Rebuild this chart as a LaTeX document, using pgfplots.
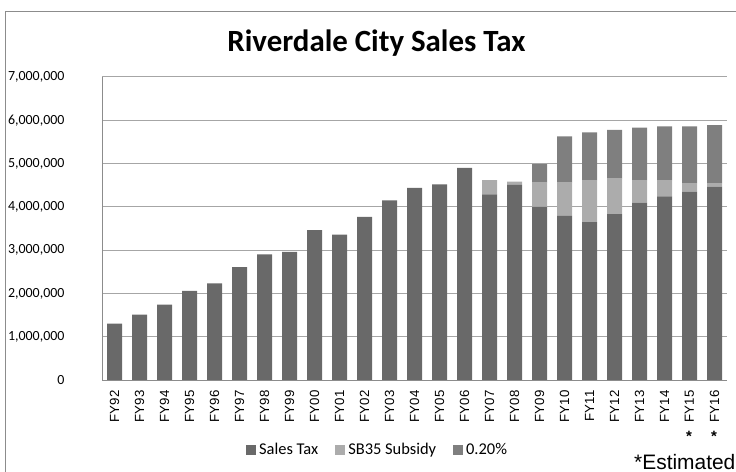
\documentclass[border=0pt]{standalone}
\usepackage{pgfplots}
\pgfplotsset{compat=1.18}
\usepackage{pgfplotstable}
\usepackage{fontspec}
\setmainfont{Carlito}
\newfontfamily\arialfont{Liberation Sans}
\definecolor{salestax}{HTML}{696969}
\definecolor{subsidy}{HTML}{ACACAC}
\definecolor{pointtwo}{HTML}{7F7F7F}
\definecolor{gridgray}{HTML}{A6A6A6}
\definecolor{framegray}{HTML}{8C8C8C}

% fiscal year index, sales tax, SB35 subsidy, 0.20% levy
\pgfplotstableread{
x  sales    sub     pct
0  1300000  0       0
1  1510000  0       0
2  1740000  0       0
3  2060000  0       0
4  2230000  0       0
5  2610000  0       0
6  2900000  0       0
7  2960000  0       0
8  3460000  0       0
9  3360000  0       0
10 3770000  0       0
11 4150000  0       0
12 4440000  0       0
13 4520000  0       0
14 4900000  0       0
15 4290000  330000  0
16 4510000  70000   0
17 4000000  560000  430000
18 3790000  770000  1070000
19 3650000  970000  1100000
20 3830000  820000  1130000
21 4100000  520000  1210000
22 4240000  380000  1240000
23 4350000  200000  1310000
24 4470000  80000   1340000
}\taxdata

\begin{document}
\begin{tikzpicture}
\path[use as bounding box] (0bp,0bp) rectangle (736bp,472bp);
\draw[framegray, line width=1bp] (5.5bp,-10bp) rectangle (760bp,460.5bp);
\node[font=\fontsize{31}{36}\selectfont\bfseries] at (376.5bp,429bp) {Riverdale City Sales Tax};

\begin{axis}[
  at={(102bp,92bp)}, anchor=south west,
  scale only axis, width=625bp, height=303bp,
  ybar stacked, bar width=0.6,
  xmin=-0.5, xmax=24.5, ymin=0, ymax=7000000,
  xtick={0,...,24},
  xticklabels={FY92,FY93,FY94,FY95,FY96,FY97,FY98,FY99,FY00,FY01,FY02,FY03,FY04,
    FY05,FY06,FY07,FY08,FY09,FY10,FY11,FY12,FY13,FY14,FY15,FY16},
  x tick label style={rotate=90, anchor=east, xshift=-7bp,
    font=\arialfont\fontsize{13.3}{15}\selectfont},
  ytick={0,1000000,...,7000000},
  scaled y ticks=false,
  yticklabel={\pgfmathprintnumber[fixed,1000 sep={,}]{\tick}},
  y tick label style={font=\fontsize{14}{16}\selectfont, xshift=-34bp},
  /pgf/number format/assume math mode=true,
  tick style={draw=none},
  ymajorgrids, grid style={gridgray, line width=1bp},
  axis x line*=bottom, axis y line*=left,
  axis line style={framegray, line width=1bp},
  legend columns=3,
  legend style={at={(0.441,-0.231)}, anchor=center, draw=none, fill=none,
    font=\fontsize{16.5}{18}\selectfont,
    /tikz/every odd column/.append style={column sep=1bp},
    /tikz/every even column/.append style={column sep=15bp}},
  legend image code/.code={\fill[#1] (0bp,-5bp) rectangle (10bp,5bp);},
]
\addplot[fill=salestax, draw=none] table[x=x, y=sales] {\taxdata};
\addplot[fill=subsidy, draw=none] table[x=x, y=sub] {\taxdata};
\addplot[fill=pointtwo, draw=none] table[x=x, y=pct] {\taxdata};
\legend{Sales Tax, SB35 Subsidy, 0.20\%}
\end{axis}

\node[font=\arialfont\bfseries\fontsize{15}{16}\selectfont] at (689bp,36bp) {*};
\node[font=\arialfont\bfseries\fontsize{15}{16}\selectfont] at (714bp,36bp) {*};
\node[anchor=base west, font=\arialfont\fontsize{21}{24}\selectfont, inner sep=0pt] at (634bp,3bp) {*Estimated};
\end{tikzpicture}
\end{document}
